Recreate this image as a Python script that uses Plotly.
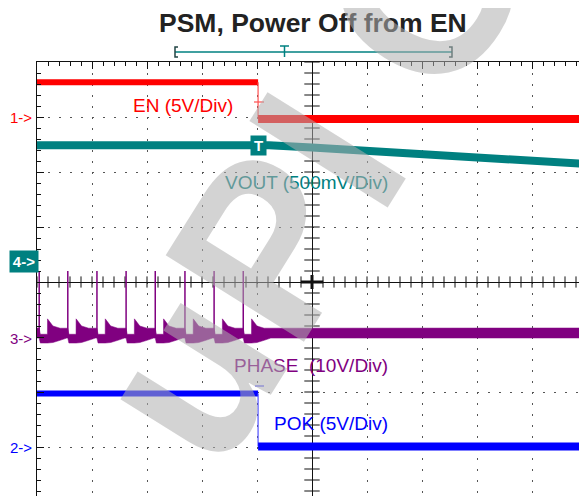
import plotly.graph_objects as go

# time axis in scope divisions (10 div across, 0 = centre of screen)
# channel: (offset in div, volts per div)
channels = {
    'EN': (3.0, 5.0),
    'VOUT': (0.345, 0.5),
    'PHASE': (-1.0, 10.0),
    'POK': (-3.0, 5.0),
}

en_t = [-5.0, -0.98, -0.98, 5.0]
en_v = [3.15, 3.15, -0.18, -0.18]

pok_t = [-5.0, -0.98, -0.98, 5.0]
pok_v = [4.86, 4.86, 0.05, 0.05]

vout_t = [-5.0, -0.78, 0.0, 1.58, 2.8, 3.76, 5.0]
vout_v = [1.07, 1.07, 1.05, 1.0, 0.97, 0.94, 0.9]

# PSM switching pulses on PHASE before EN goes low
phase_spikes = [-4.96, -4.44, -3.91, -3.38, -2.85, -2.31, -1.78, -1.25]
spike_top = 12.0
burst_dt = [0.0, 0.02, 0.15, 0.151, 0.25, 0.38, 0.50]
burst_hi = [1.6, 0.5, 0.5, 3.3, 2.0, 1.6, 1.6]
burst_lo = [-0.2, -1.1, -1.1, -1.1, -1.0, -0.6, -0.2]
phase_hi, phase_lo = 1.64, -0.18

RED, TEAL, PURPLE, BLUE = '#ff0000', '#008080', '#800080', '#0000ff'

# page body has an 8px margin, so the plot area is placed relative to that
PAGE = 8
W, H = 587, 496
ML, MT, MR = 37 - PAGE, 62 - PAGE, PAGE
PLOT_W, PLOT_H = W - ML - MR, H - MT


def to_div(vals, ch):
    off, sc = channels[ch]
    return [off + v / sc for v in vals]


def px(x):
    return (x - 37) / PLOT_W


def py(y):
    return (H + PAGE - y) / PLOT_H


def step_traces(t, v, ch, color, widths, edge_color):
    y = to_div(v, ch)
    out = []
    for i in range(len(t) - 1):
        if t[i] == t[i + 1]:
            out.append(go.Scatter(x=[t[i], t[i + 1]], y=[y[i], y[i + 1]], mode='lines',
                                  line=dict(color=edge_color, width=1.5)))
        else:
            out.append(go.Scatter(x=[t[i], t[i + 1]], y=[y[i], y[i + 1]], mode='lines',
                                  line=dict(color=color, width=widths[i // 2])))
    return out


fig = go.Figure()

# centre axis ticks
minor = [round(-5 + 0.2 * i, 2) for i in range(51)]
minor_y = [round(-4 + 0.2 * i, 2) for i in range(41)]
fig.add_trace(go.Scatter(x=minor, y=[0] * len(minor), mode='markers',
                         marker=dict(symbol='line-ns', size=8, line=dict(color='#111', width=1))))
fig.add_trace(go.Scatter(x=[0] * len(minor_y), y=minor_y, mode='markers',
                         marker=dict(symbol='line-ew', size=11, line=dict(color='#111', width=1))))
fig.add_trace(go.Scatter(x=[0], y=[0], mode='markers',
                         marker=dict(symbol='line-ew', size=16, line=dict(color='#111', width=3))))
fig.add_trace(go.Scatter(x=[0], y=[0], mode='markers',
                         marker=dict(symbol='line-ns', size=10, line=dict(color='#111', width=3))))

# PHASE band
pt, ph, pl = [-5.0], [phase_hi], [phase_lo]
for s in phase_spikes:
    for d, h, l in zip(burst_dt, burst_hi, burst_lo):
        pt.append(s + d)
        ph.append(h)
        pl.append(l)
pt.append(5.0)
ph.append(phase_hi)
pl.append(phase_lo)
fig.add_trace(go.Scatter(x=pt + pt[::-1], y=to_div(ph + pl[::-1], 'PHASE'), mode='lines',
                         fill='toself', fillcolor=PURPLE, line=dict(color=PURPLE, width=0.5)))
sx, sy = [], []
for s in phase_spikes:
    sx += [s, s, None]
    sy += to_div([0.0, spike_top], 'PHASE') + [None]
fig.add_trace(go.Scatter(x=sx, y=sy, mode='lines', line=dict(color=PURPLE, width=1.5)))

for tr in step_traces(pok_t, pok_v, 'POK', BLUE, [6, 8], 'rgba(80,80,255,0.8)'):
    fig.add_trace(tr)
fig.add_trace(go.Scatter(x=vout_t, y=to_div(vout_v, 'VOUT'), mode='lines',
                         line=dict(color=TEAL, width=8)))
for tr in step_traces(en_t, en_v, 'EN', RED, [6, 8], 'rgba(255,80,80,0.8)'):
    fig.add_trace(tr)

fig.update_traces(hoverinfo='skip')

axis_style = dict(showgrid=True, gridcolor='#555', griddash='2px,9px', gridwidth=1,
                  zeroline=True, zerolinecolor='#111', zerolinewidth=1,
                  showline=True, linecolor='#111', linewidth=1, mirror='ticks',
                  ticks='inside', ticklen=7, tickcolor='#111', showticklabels=False,
                  minor=dict(dtick=0.2, ticks='inside', ticklen=4, tickcolor='#111', showgrid=False),
                  fixedrange=True)
fig.update_xaxes(range=[-5, 5], dtick=1, tick0=0, **axis_style)
fig.update_yaxes(range=[4 - PLOT_H / 55, 4], dtick=1, tick0=0, **axis_style)

shapes = [
    # record-length bracket above the screen
    dict(type='line', x0=px(175), x1=px(452), y0=py(52), y1=py(52), line=dict(color=TEAL, width=1.5)),
    dict(type='path', path='M %f,%f L %f,%f L %f,%f L %f,%f' % (px(178), py(47), px(175), py(47),
                                                            px(175), py(57), px(178), py(57)),
         line=dict(color='#244', width=1.5)),
    dict(type='path', path='M %f,%f L %f,%f L %f,%f L %f,%f' % (px(449), py(47), px(452), py(47),
                                                            px(452), py(57), px(449), py(57)),
         line=dict(color='#244', width=1.5)),
    dict(type='line', x0=px(280), x1=px(289), y0=py(46), y1=py(46), line=dict(color=TEAL, width=1.5)),
    dict(type='line', x0=px(284.5), x1=px(284.5), y0=py(46), y1=py(57), line=dict(color=TEAL, width=1.5)),
    # small trigger marks on the EN and POK edges
    dict(type='line', x0=px(254), x1=px(264), y0=py(102), y1=py(102),
         line=dict(color='rgba(255,80,80,0.8)', width=1.5)),
    dict(type='line', x0=px(255), x1=px(264), y0=py(386), y1=py(386),
         line=dict(color='rgba(80,80,255,0.8)', width=1.5)),
]
for sh in shapes:
    sh.update(xref='paper', yref='paper')

font = 'Liberation Sans, Arial, sans-serif'
ann = [
    dict(text='<b>PSM, Power Off from EN</b>', x=px(312.5), y=py(23), font=dict(size=26.5, color='#222')),
    dict(text='EN (5V/Div)', x=px(183), y=py(105), font=dict(size=19, color=RED)),
    dict(text='VOUT (500mV/Div)', x=px(306), y=py(182), font=dict(size=19, color=TEAL)),
    dict(text='PHASE  (10V/Div)', x=px(311), y=py(365), font=dict(size=19, color=PURPLE)),
    dict(text='POK (5V/Div)', x=px(331), y=py(423), font=dict(size=19, color=BLUE)),
    dict(text='1->', x=px(34), y=py(117), xanchor='right', font=dict(size=15, color=RED)),
    dict(text='3->', x=px(34), y=py(338), xanchor='right', font=dict(size=15, color=PURPLE)),
    dict(text='2->', x=px(34), y=py(447), xanchor='right', font=dict(size=15, color=BLUE)),
    dict(text='<b>4-></b>', x=px(9), y=py(262), xanchor='left', font=dict(size=15, color='white'),
         bgcolor=TEAL, borderpad=2, width=24),
    dict(text='<b>T</b>', x=-0.98, y=to_div([1.07], 'VOUT')[0], xref='x', yref='y',
         font=dict(size=15, color='white'), bgcolor=TEAL, borderpad=1, width=13),
    # watermark
    dict(text='<b>uPI C</b>', x=px(309), y=py(177), textangle=-58,
         font=dict(size=237, color='rgba(175,175,175,0.55)')),
]
for a in ann:
    a.setdefault('xref', 'paper')
    a.setdefault('yref', 'paper')
    a.setdefault('xanchor', 'center')
    a.setdefault('yanchor', 'middle')
    a['showarrow'] = False
    a['font'].setdefault('family', font)

fig.update_layout(width=W, height=H, margin=dict(l=ML, r=MR, t=MT, b=0),
                  paper_bgcolor='white', plot_bgcolor='white', showlegend=False,
                  shapes=shapes, annotations=ann, font=dict(family=font))

fig.write_html('out.html')
